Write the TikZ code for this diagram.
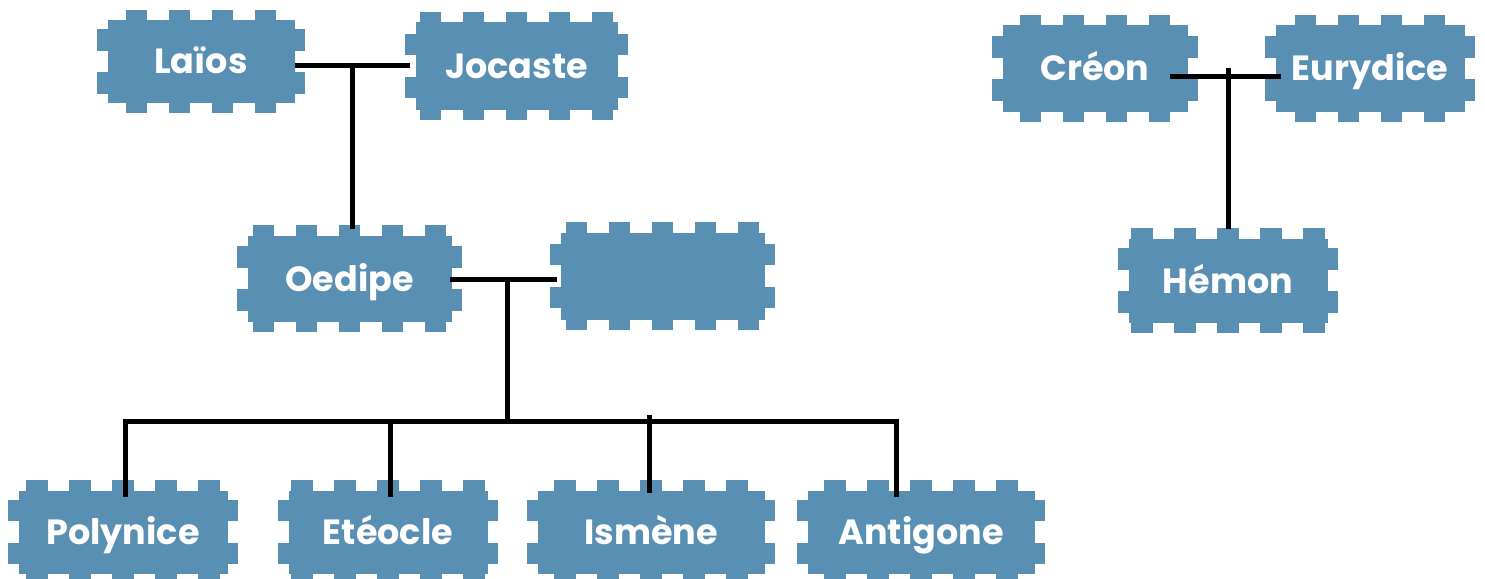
\documentclass[tikz,border=0pt]{standalone}
\usepackage{fontspec}
\setmainfont{Poppins}
\usetikzlibrary{calc}
\definecolor{stampblue}{RGB}{88,143,178}
\newcommand{\sd}{10.5}
\newcommand{\tw}{21.5}
\newcommand{\tp}{43}
\tikzset{
  stampfill/.style={fill=stampblue},
  stamptext/.style={text=white,font=\fontsize{35}{40}\selectfont\bfseries,inner sep=0pt,text height=28pt,text depth=3pt},
  famline/.style={line width=5pt,draw=black},
}
\newcommand{\stampbox}[6]{%
  \pgfmathsetmacro\sbL{#2+\sd}\pgfmathsetmacro\sbR{#4-\sd}%
  \pgfmathsetmacro\sbT{#3+\sd}\pgfmathsetmacro\sbB{#5-\sd}%
  \fill[stampfill] (\sbL,\sbT) rectangle (\sbR,\sbB);
  \pgfmathsetmacro\sbW{\sbR-\sbL}%
  \pgfmathtruncatemacro\sbN{floor((\sbW-\tw)/\tp)}%
  \pgfmathsetmacro\sbO{(\sbW-(\sbN*\tp+\tw))/2}%
  \foreach \i in {0,...,\sbN}{%
    \pgfmathsetmacro\sxa{\sbL+\sbO+\i*\tp}%
    \pgfmathsetmacro\sxb{\sxa+\tw}%
    \fill[stampfill] (\sxa,#3) rectangle (\sxb,\sbT);
    \fill[stampfill] (\sxa,\sbB) rectangle (\sxb,#5);
  }
  \pgfmathsetmacro\sbH{\sbB-\sbT}%
  \pgfmathtruncatemacro\sbM{floor((\sbH-\tw)/\tp)}%
  \pgfmathsetmacro\sbP{(\sbH-(\sbM*\tp+\tw))/2}%
  \foreach \i in {0,...,\sbM}{%
    \pgfmathsetmacro\sya{\sbT+\sbP+\i*\tp}%
    \pgfmathsetmacro\syb{\sya+\tw}%
    \fill[stampfill] (#2,\sya) rectangle (\sbL,\syb);
    \fill[stampfill] (\sbR,\sya) rectangle (#4,\syb);
  }
  \node[stamptext,minimum width={(#4-#2-2*\sd)*1pt},minimum height={(#5-#3-2*\sd)*1pt}] (#1) at ({(#2+#4)/2},{(#3+#5)/2}) {#6};
}
\begin{document}
\begin{tikzpicture}[x=1pt,y=-1pt]
\useasboundingbox (0,0) rectangle (1485,578);
\stampbox{laios}{97}{10}{305}{113}{Laïos}
\stampbox{jocaste}{405}{12}{628}{120}{Jocaste}
\stampbox{oedipe}{237}{225}{462}{332}{Oedipe}
\stampbox{blank}{550}{222}{775}{330}{}
\stampbox{creon}{992}{15}{1198}{122}{Créon}
\stampbox{eurydice}{1265}{15}{1475}{122}{Eurydice}
\stampbox{hemon}{1118}{228}{1338}{333}{Hémon}
\stampbox{polynice}{8}{480}{238}{584}{Polynice}
\stampbox{eteocle}{278}{480}{498}{584}{Etéocle}
\stampbox{ismene}{527}{480}{775}{584}{Ismène}
\stampbox{antigone}{797}{480}{1045}{584}{Antigone}
% Laios - Jocaste
\coordinate (lj) at (352,66);
\draw[famline] (laios.east |- lj) -- ([xshift=-5pt]jocaste.west |- lj);
\draw[famline] (lj) -- ([yshift=6pt]lj |- oedipe.north);
% Oedipe - blank
\coordinate (ob) at (507,279);
\draw[famline] ([xshift=-2pt]oedipe.east |- ob) -- ([xshift=-3pt]blank.west |- ob);
\coordinate (bar) at (507,421);
\draw[famline] (ob) -- (bar);
% children bar
\coordinate (barL) at (125,421);
\coordinate (barR) at (896,421);
\coordinate (barE) at (390,421);
\coordinate (barI) at (649,415);
\draw[famline] ([xshift=-2.5pt]barL) -- ([xshift=2.5pt]barR);
\draw[famline] (barL) -- ([yshift=-7pt]barL |- polynice.north);
\draw[famline] (barE) -- ([yshift=-7pt]barE |- eteocle.north);
\draw[famline] (barI) -- ([yshift=-3pt]barI |- ismene.north);
\draw[famline] (barR) -- ([yshift=-7pt]barR |- antigone.north);
% Creon - Eurydice
\coordinate (ce) at (1228,76);
\draw[famline] ([xshift=-18pt]creon.east |- ce) -- ([xshift=6pt]eurydice.west |- ce);
\draw[famline] ([yshift=8pt]ce) -- ([yshift=9pt]ce |- hemon.north);
\end{tikzpicture}
\end{document}
